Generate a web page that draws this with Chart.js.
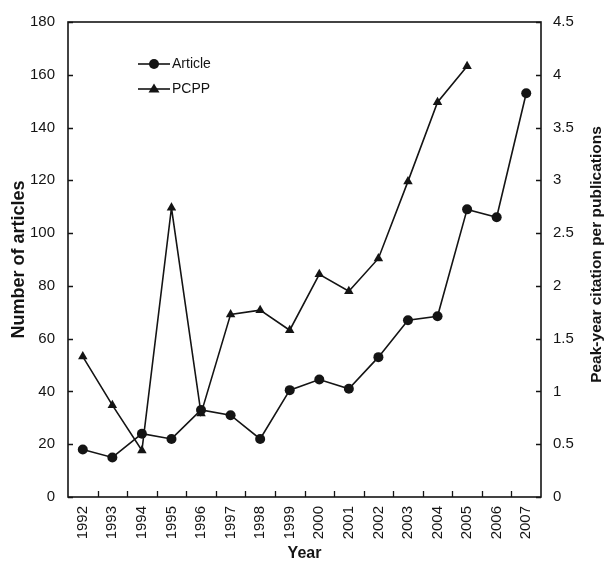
<!DOCTYPE html>
<html>
<head>
<meta charset="utf-8">
<script src="https://cdn.jsdelivr.net/npm/chart.js@4.4.1/dist/chart.umd.min.js"></script>
<style>
html,body{margin:0;padding:0;background:#fff;}
#wrap{width:606px;height:571px;position:relative;}
</style>
</head>
<body>
<div id="wrap"><canvas id="c" width="606" height="571"></canvas></div>
<script>
const years = ['1992','1993','1994','1995','1996','1997','1998','1999','2000','2001','2002','2003','2004','2005','2006','2007'];
const articleCounts = [18, 15, 24, 22, 33, 31, 22, 40.5, 44.5, 41, 53, 67, 68.5, 109, 106, 153];
const pcppValues = [1.33, 0.87, 0.44, 2.74, 0.79, 1.73, 1.77, 1.58, 2.11, 1.95, 2.26, 2.99, 3.74, 4.08, null, null];
const leftTicksMax = 180;
const rightTicksMax = 4.5;
const seriesNames = ['Article', 'PCPP'];
const leftTitle = 'Number of articles';
const rightTitle = 'Peak-year citation per publications';
const xTitle = 'Year';

const INK = '#141414';
const FONT = '"Liberation Sans", Arial, sans-serif';

const framePlugin = {
  id: 'frame',
  afterDraw(chart) {
    const ctx = chart.ctx;
    const a = chart.chartArea;
    const x = chart.scales.x, yL = chart.scales.yL, yR = chart.scales.yR;
    ctx.save();
    ctx.strokeStyle = INK;
    ctx.lineWidth = 1.6;
    ctx.strokeRect(a.left, a.top, a.right - a.left, a.bottom - a.top);
    ctx.lineWidth = 1.3;
    ctx.beginPath();
    yL.ticks.forEach(t => {
      const py = Math.round(yL.getPixelForValue(t.value)) + 0.5;
      ctx.moveTo(a.left, py); ctx.lineTo(a.left + 5, py);
    });
    yR.ticks.forEach(t => {
      const py = Math.round(yR.getPixelForValue(t.value)) + 0.5;
      ctx.moveTo(a.right, py); ctx.lineTo(a.right - 5, py);
    });
    for (let i = 0; i < years.length - 1; i++) {
      const px = Math.round((x.getPixelForValue(i) + x.getPixelForValue(i + 1)) / 2) + 0.5;
      ctx.moveTo(px, a.bottom); ctx.lineTo(px, a.bottom - 6);
    }
    ctx.stroke();

    // right axis title (reads bottom to top)
    ctx.fillStyle = INK;
    ctx.font = 'bold 15.5px ' + FONT;
    ctx.textAlign = 'center';
    ctx.textBaseline = 'middle';
    ctx.translate(597, (a.top + a.bottom) / 2 - 5);
    ctx.rotate(-Math.PI / 2);
    ctx.fillText(rightTitle, 0, 0);
    ctx.restore();

    // legend inside plot
    ctx.save();
    ctx.strokeStyle = INK;
    ctx.fillStyle = INK;
    ctx.lineWidth = 1.6;
    const items = [{name: seriesNames[0], y: 64, shape: 'circle'}, {name: seriesNames[1], y: 89, shape: 'triangle'}];
    items.forEach(it => {
      ctx.beginPath();
      ctx.moveTo(138, it.y); ctx.lineTo(170, it.y);
      ctx.stroke();
      ctx.beginPath();
      if (it.shape === 'circle') {
        ctx.arc(154, it.y, 5, 0, Math.PI * 2);
      } else {
        ctx.moveTo(154, it.y - 5.5); ctx.lineTo(159.5, it.y + 3.5); ctx.lineTo(148.5, it.y + 3.5); ctx.closePath();
      }
      ctx.fill();
      ctx.font = '14px ' + FONT;
      ctx.textAlign = 'left';
      ctx.textBaseline = 'middle';
      ctx.fillText(it.name, 172, it.y + 0.5);
    });
    ctx.restore();
  }
};

new Chart(document.getElementById('c'), {
  type: 'line',
  data: {
    labels: years,
    datasets: [
      {
        label: seriesNames[0], data: articleCounts, yAxisID: 'yL',
        borderColor: INK, backgroundColor: INK, borderWidth: 1.6,
        pointStyle: 'circle', pointRadius: 5, pointBorderWidth: 0, tension: 0
      },
      {
        label: seriesNames[1], data: pcppValues, yAxisID: 'yR',
        borderColor: INK, backgroundColor: INK, borderWidth: 1.6,
        pointStyle: 'triangle', pointRadius: 5.5, pointBorderWidth: 0, tension: 0
      }
    ]
  },
  options: {
    responsive: false,
    animation: false,
    layout: {padding: {top: 15, left: 0, right: 0, bottom: 0}},
    plugins: {legend: {display: false}, tooltip: {enabled: false}},
    scales: {
      x: {
        type: 'category', offset: true,
        grid: {display: false, drawTicks: false, offset: true},
        border: {display: false},
        ticks: {color: INK, font: {family: FONT, size: 15}, maxRotation: 90, minRotation: 90, padding: 9, autoSkip: false},
        title: {display: true, text: xTitle, color: INK, font: {family: FONT, size: 16, weight: 'bold'}, padding: {top: 0, bottom: 8}},
        afterFit(s) { s.height = 74; }
      },
      yL: {
        position: 'left', min: 0, max: leftTicksMax,
        grid: {display: false, drawTicks: false},
        border: {display: false},
        ticks: {stepSize: 20, color: INK, font: {family: FONT, size: 15}, padding: 13},
        title: {display: true, text: leftTitle, color: INK, font: {family: FONT, size: 18, weight: 'bold'}, padding: {top: 8, bottom: 0}},
        afterFit(s) { s.width = 68; }
      },
      yR: {
        position: 'right', min: 0, max: rightTicksMax,
        grid: {display: false, drawTicks: false},
        border: {display: false},
        ticks: {stepSize: 0.5, color: INK, font: {family: FONT, size: 15}, padding: 12, callback: v => String(v)},
        afterFit(s) { s.width = 65; }
      }
    }
  },
  plugins: [framePlugin]
});
</script>
</body>
</html>
